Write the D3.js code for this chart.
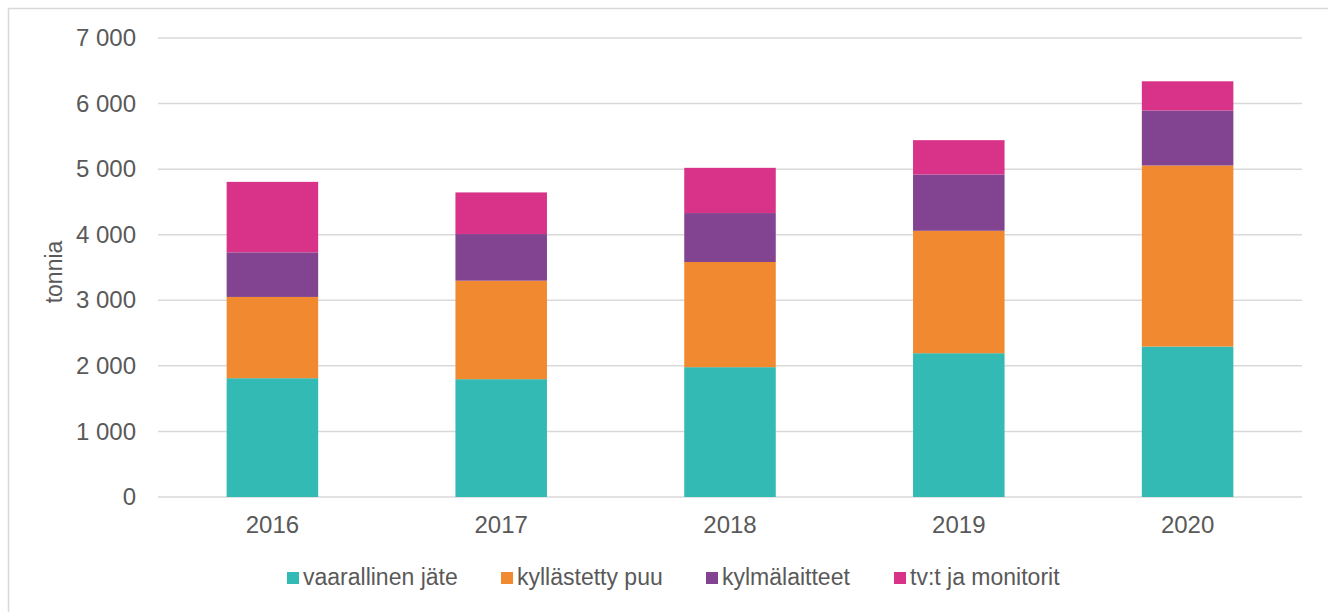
<!DOCTYPE html>
<html>
<head>
<meta charset="utf-8">
<script src="https://cdn.jsdelivr.net/npm/d3@7"></script>
<style>
  body { margin: 0; background: #fff; }
  text { font-family: "Liberation Sans", Arial, sans-serif; fill: #595959; }
</style>
</head>
<body>
<div id="chart"></div>
<script>
var years = ["2016", "2017", "2018", "2019", "2020"];
var series = ["vaarallinen jäte", "kyllästetty puu", "kylmälaitteet", "tv:t ja monitorit"];
var vaarallinen = [1812, 1797, 1980, 2193, 2294];
var kyllastetty = [1239, 1502, 1604, 1867, 2762];
var kylma = [680, 711, 746, 859, 838];
var tv = [1075, 635, 690, 523, 446];
var colors = ["#34bab4", "#f0892f", "#824490", "#d83388"];
var yTicks = [0, 1000, 2000, 3000, 4000, 5000, 6000, 7000];

var W = 1328, H = 612;
var margin = { left: 158, right: 26, top: 38, bottom: 115 };
var width = W - margin.left - margin.right;
var height = H - margin.top - margin.bottom;

var svg = d3.select("#chart").append("svg")
    .attr("width", W)
    .attr("height", H);

// outer frame
svg.append("rect")
    .attr("x", 8.5).attr("y", 8.5)
    .attr("width", W + 20).attr("height", H + 20)
    .attr("fill", "none")
    .attr("stroke", "#d9d9d9")
    .attr("stroke-width", 1.5);

var g = svg.append("g")
    .attr("transform", "translate(" + margin.left + "," + margin.top + ")");

var x = d3.scaleBand().domain(years).range([0, width])
    .paddingInner(0.6).paddingOuter(0.3);
var y = d3.scaleLinear().domain([0, 7000]).range([height, 0]);

// gridlines
g.append("g")
    .selectAll("line")
    .data(yTicks)
    .enter().append("line")
    .attr("x1", 0).attr("x2", width)
    .attr("y1", function(d) { return y(d); })
    .attr("y2", function(d) { return y(d); })
    .attr("stroke", "#d9d9d9")
    .attr("stroke-width", 1.5);

var table = years.map(function(yr, i) {
  return { year: yr, s0: vaarallinen[i], s1: kyllastetty[i], s2: kylma[i], s3: tv[i] };
});
var stack = d3.stack().keys(["s0", "s1", "s2", "s3"])(table);

g.selectAll(".layer")
    .data(stack)
    .enter().append("g")
    .attr("class", "layer")
    .attr("fill", function(d, i) { return colors[i]; })
    .selectAll("rect")
    .data(function(d) { return d; })
    .enter().append("rect")
    .attr("x", function(d) { return x(d.data.year); })
    .attr("width", x.bandwidth())
    .attr("y", function(d) { return y(d[1]); })
    .attr("height", function(d) { return y(d[0]) - y(d[1]); });

// y axis
var fmt = function(d) { return d3.format(",")(d).replace(/,/g, " "); };
var yAxis = g.append("g")
    .call(d3.axisLeft(y).tickValues(yTicks).tickFormat(fmt).tickSize(0).tickPadding(22));
yAxis.select(".domain").remove();
yAxis.selectAll("text").style("font-size", "24px").attr("fill", "#595959");

// x axis
var xAxis = g.append("g")
    .attr("transform", "translate(0," + height + ")")
    .call(d3.axisBottom(x).tickSize(0).tickPadding(19));
xAxis.select(".domain").remove();
xAxis.selectAll("text").style("font-size", "24px").attr("fill", "#595959");

// y title
svg.append("text")
    .attr("transform", "translate(62,272) rotate(-90)")
    .attr("text-anchor", "middle")
    .style("font-size", "23px")
    .text("tonnia");

// legend
var legendX = [287, 501, 706, 894];
var legend = svg.append("g").selectAll("g")
    .data(series)
    .enter().append("g")
    .attr("transform", function(d, i) { return "translate(" + legendX[i] + ",572)"; });
legend.append("rect")
    .attr("width", 12).attr("height", 12)
    .attr("fill", function(d, i) { return colors[i]; });
legend.append("text")
    .attr("x", 16).attr("y", 12.5)
    .style("font-size", "23px")
    .text(function(d) { return d; });
</script>
</body>
</html>
